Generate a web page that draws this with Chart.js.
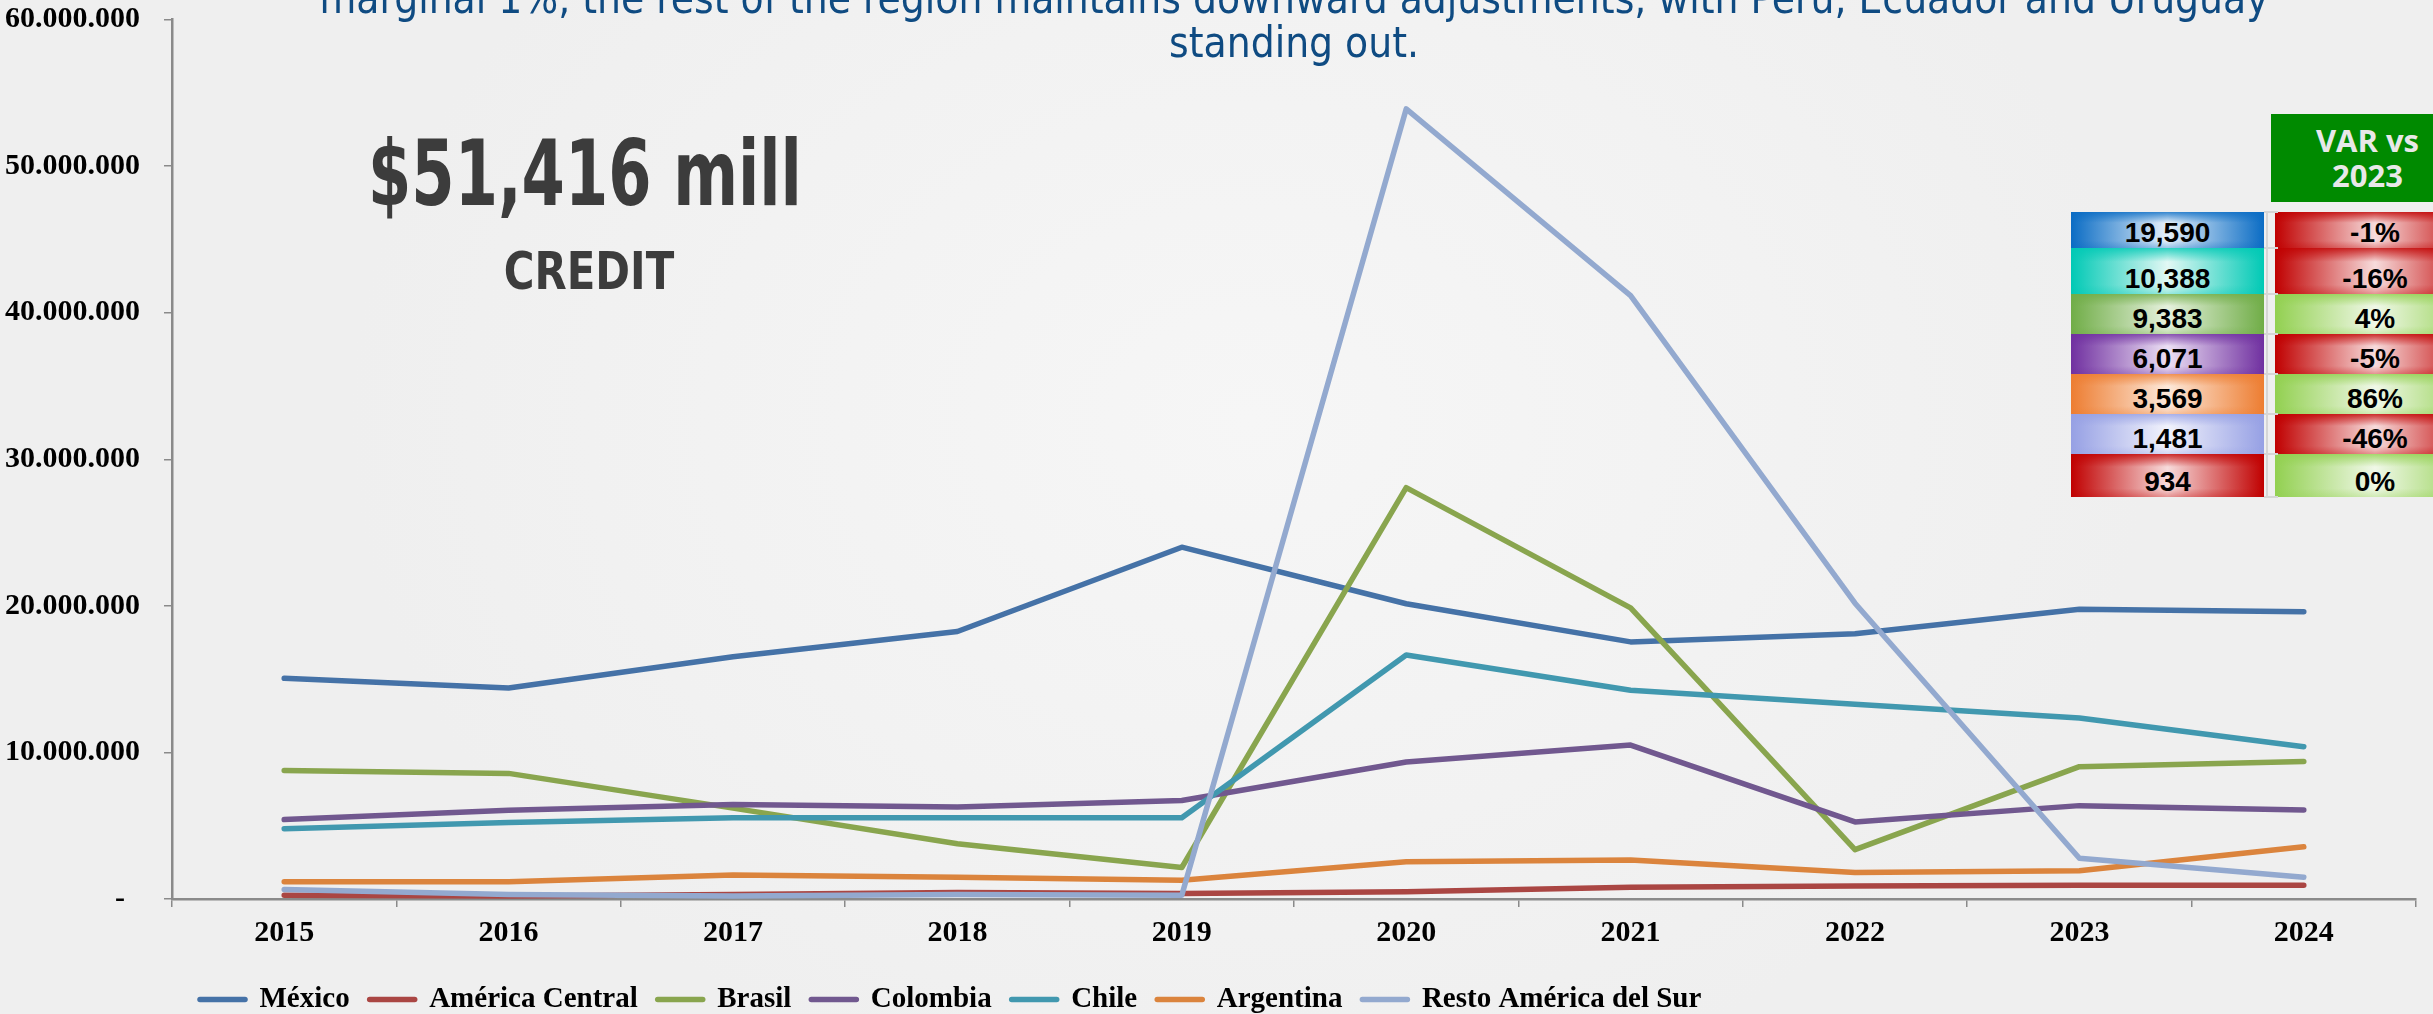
<!DOCTYPE html>
<html>
<head>
<meta charset="utf-8">
<title>Credit by region</title>
<script src="https://cdn.jsdelivr.net/npm/chart.js@4.4.1/dist/chart.umd.min.js"></script>
<style>
  html, body { margin: 0; padding: 0; background: #f2f2f2; overflow: hidden; }
  #wrap {
    position: relative; width: 2433px; height: 1014px; overflow: hidden;
    background: radial-gradient(ellipse 900px 700px at 1250px 420px, #f6f6f6 0%, #f2f2f2 60%, #efefef 100%);
  }
  #chart { position: absolute; left: 0; top: 0; }
  #title {
    position: absolute; left: 172px; width: 2244px; top: -23px;
    text-align: center; white-space: nowrap;
    font-family: "DejaVu Sans Condensed", "DejaVu Sans", sans-serif; font-stretch: condensed;
    font-size: 42px; line-height: 44px; color: #0f4b82;
  }
  .kpi {
    position: absolute; white-space: nowrap; color: #3c3c3c; font-weight: bold;
    font-family: "Liberation Sans Narrow", "DejaVu Sans Condensed", sans-serif; font-stretch: condensed;
    line-height: 1; transform-origin: 50% 50%;
  }
  #kpiValue { left: 585px; top: 128px; font-size: 91px; }
  #kpiLabel { left: 589px; top: 245px; font-size: 52px; }
  #varHead {
    position: absolute; left: 2271px; top: 114px; width: 193px; height: 88px;
    background: #008a00; color: #e8e8e8; text-align: center;
    font-family: "Open Sans", sans-serif; font-weight: bold; font-size: 31px; line-height: 35px;
    padding-top: 9px; box-sizing: border-box;
  }
  .cell {
    position: absolute; display: flex; align-items: flex-end; justify-content: center;
    box-sizing: border-box; padding-bottom: 1px;
    font-family: "Liberation Sans", Arial, sans-serif; font-weight: bold; font-size: 28px; line-height: 28px;
    color: #000;
  }
  .sep { position: absolute; background: #d6d6d6; }
</style>
</head>
<body>
<div id="wrap">
  <canvas id="chart" width="2433" height="1014"></canvas>
  <div id="title">marginal 1%, the rest of the region maintains downward adjustments, with Peru, Ecuador and Uruguay<br>standing out.</div>
  <div class="kpi" id="kpiValue">$51,416 mill</div>
  <div class="kpi" id="kpiLabel">CREDIT</div>
  <div id="varHead">VAR vs<br>2023</div>
  <div id="table"></div>
</div>
<script>
// ---- data ----
const years = ["2015", "2016", "2017", "2018", "2019", "2020", "2021", "2022", "2023", "2024"];
const seriesNames = ["México", "América Central", "Brasil", "Colombia", "Chile", "Argentina", "Resto América del Sur"];

const mexico          = [15060000, 14390000, 16520000, 18250000, 24000000, 20140000, 17540000, 18100000, 19760000, 19590000];
const americaCentral  = [  260000,   200000,   300000,   450000,   380000,   500000,   810000,   890000,   940000,   934000];
const brasil          = [ 8770000,  8570000,  6200000,  3770000,  2150000, 28060000, 19860000,  3370000,  9030000,  9383000];
const colombia        = [ 5420000,  6050000,  6440000,  6280000,  6720000,  9350000, 10500000,  5260000,  6370000,  6071000];
const chile           = [ 4790000,  5220000,  5540000,  5540000,  5540000, 16640000, 14240000, 13290000, 12350000, 10388000];
const argentina       = [ 1170000,  1170000,  1640000,  1480000,  1280000,  2540000,  2660000,  1800000,  1920000,  3569000];
const restoSur        = [  650000,   300000,   200000,   300000,   250000, 53900000, 41170000, 20180000,  2780000,  1481000];

const yTicks = [0, 10000000, 20000000, 30000000, 40000000, 50000000, 60000000];

// side table (2024 credit in millions and variation vs 2023, %)
const tableCredit = [19590, 10388, 9383, 6071, 3569, 1481, 934];
const tableVar = [-1, -16, 4, -5, 86, -46, 0];

// ---- styles ----
const lineColors = ["#4572a7", "#aa4643", "#89a54e", "#71588f", "#4198af", "#db843d", "#93a9cf"];
const cellColors = [
  ["#0a6cc4", "#e6f0fa"], ["#00c9b5", "#e2f8f4"], ["#70ad47", "#e6f1de"], ["#7030a0", "#ece0f4"],
  ["#ed7d31", "#fde9db"], ["#96a0e4", "#f2f3fc"], ["#c00000", "#f7dcdc"]
];
const redCell = ["#c00000", "#f7dcdc"];
const greenCell = ["#92d050", "#f0f8e8"];
const rowEdges = [212, 248, 294, 334, 374, 414, 454, 497];

const serif = "'Liberation Serif', 'Times New Roman', serif";
const axisGrey = "#8a8a8a";

const allSeries = [mexico, americaCentral, brasil, colombia, chile, argentina, restoSur];

const dotted = v => String(v).replace(/\B(?=(\d{3})+(?!\d))/g, ".");
const commas = v => String(v).replace(/\B(?=(\d{3})+(?!\d))/g, ",");

// legend in the reference sits left of centre; nudge it after layout
const legendNudge = {
  id: "legendNudge",
  afterLayout(chart) {
    chart.legend.left = 180;
    chart.legend.top += 10;
  }
};

new Chart(document.getElementById("chart"), {
  type: "line",
  data: {
    labels: years,
    datasets: allSeries.map((d, i) => ({
      label: seriesNames[i],
      data: d,
      borderColor: lineColors[i],
      backgroundColor: lineColors[i],
      borderWidth: 5.5,
      borderCapStyle: "round",
      borderJoinStyle: "round",
      pointRadius: 0,
      pointHoverRadius: 0,
      tension: 0,
      order: allSeries.length - i
    }))
  },
  options: {
    responsive: false,
    animation: false,
    layout: { padding: { top: 19.5, right: 17, bottom: 0, left: 0 } },
    plugins: {
      tooltip: { enabled: false },
      legend: {
        position: "bottom",
        align: "start",
        labels: {
          usePointStyle: true,
          pointStyle: "line",
          pointStyleWidth: 45,
          padding: 20,
          color: "#000",
          font: { family: serif, weight: "bold", size: 29 },
          generateLabels(chart) {
            const items = Chart.defaults.plugins.legend.labels.generateLabels(chart);
            items.forEach(it => {
              it.lineCap = "round";
              it.lineWidth = 5.5;
              it.strokeStyle = lineColors[it.datasetIndex];
            });
            return items.sort((a, b) => a.datasetIndex - b.datasetIndex);
          }
        }
      }
    },
    scales: {
      x: {
        offset: true,
        grid: { offset: true, drawOnChartArea: false, drawTicks: true, tickLength: 8, color: axisGrey, lineWidth: 1.5 },
        border: { display: true, color: axisGrey, width: 2.5 },
        ticks: { padding: 8, color: "#000", maxRotation: 0, font: { family: serif, weight: "bold", size: 30 } },
        afterFit(s) { s.height = 56; }
      },
      y: {
        min: 0,
        max: 60000000,
        afterBuildTicks(s) { s.ticks = yTicks.map(v => ({ value: v })); },
        grid: { drawOnChartArea: false, drawTicks: true, tickLength: 8, color: axisGrey, lineWidth: 1.5 },
        border: { display: true, color: axisGrey, width: 2.5 },
        ticks: {
          padding: 24,
          color: "#000",
          font: { family: serif, weight: "bold", size: 30 },
          callback: v => (v === 0 ? "-  " : dotted(v))
        },
        afterFit(s) { s.width = 172; s.paddingTop = 0; s.paddingBottom = 0; }
      }
    }
  },
  plugins: [legendNudge]
});

// ---- KPI text: squeeze to the widths seen in the picture ----
function squeeze(id, target) {
  const el = document.getElementById(id);
  const k = target / el.offsetWidth;
  el.style.transform = "translateX(-50%) scaleX(" + k + ")";
}
squeeze("kpiValue", 434);
squeeze("kpiLabel", 170);

// ---- side table ----
function cellBg(c) {
  return "linear-gradient(to bottom, " + c[0] + "cc 0%, rgba(255,255,255,0) 30%, rgba(255,255,255,0) 80%, " + c[0] + "55 100%), " +
         "linear-gradient(to right, " + c[0] + " 0%, " + c[1] + " 50%, " + c[0] + " 100%)";
}
const table = document.getElementById("table");
tableCredit.forEach((v, i) => {
  const top = rowEdges[i], h = rowEdges[i + 1] - rowEdges[i];
  const left = document.createElement("div");
  left.className = "cell";
  left.style.cssText = "left:2071px;width:193px;top:" + top + "px;height:" + h + "px;background:" + cellBg(cellColors[i]);
  left.textContent = commas(v);
  table.appendChild(left);

  const right = document.createElement("div");
  right.className = "cell";
  right.style.cssText = "left:2275px;width:200px;top:" + top + "px;height:" + h + "px;background:" +
    cellBg(tableVar[i] < 0 ? redCell : greenCell);
  right.textContent = tableVar[i] + "%";
  table.appendChild(right);

  const tick = document.createElement("div");
  tick.className = "sep";
  tick.style.cssText = "left:2264px;width:14px;height:2px;top:" + (top - 1) + "px";
  table.appendChild(tick);
});
const bar = document.createElement("div");
bar.className = "sep";
bar.style.cssText = "left:2266px;width:2px;top:" + rowEdges[0] + "px;height:" + (rowEdges[7] - rowEdges[0]) + "px";
table.appendChild(bar);
const lastTick = document.createElement("div");
lastTick.className = "sep";
lastTick.style.cssText = "left:2264px;width:14px;height:2px;top:" + (rowEdges[7] - 1) + "px";
table.appendChild(lastTick);
</script>
</body>
</html>
